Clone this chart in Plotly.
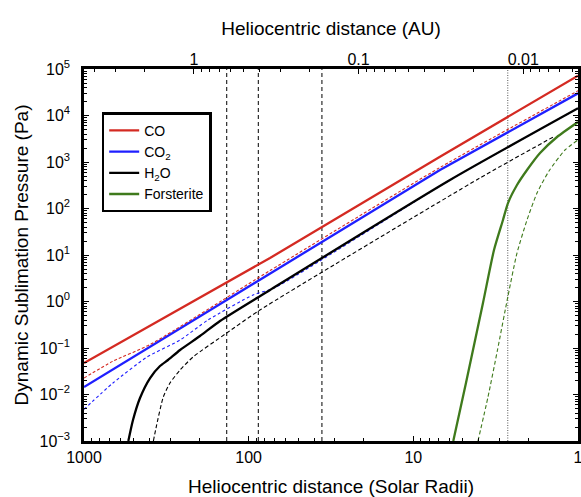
import math
import plotly.graph_objects as go

# ---------------- data ----------------
RSUN_PER_AU = 215.03

co_r = [1000, 74.2, 6.89, 1.0]
co_p = [0.0476, 8.62, 1300, 71800]

co_dash_r = [1000, 667, 397, 74.2, 6.89, 1.0]
co_dash_p = [0.0226, 0.052, 0.119, 4.63, 762, 34100]

co2_r = [1000, 74.2, 6.89, 1.0]
co2_p = [0.01449, 4.04, 673, 30000]

co2_dash_r = [1000, 667, 414, 261, 176.6, 94.1, 69.5, 5.99, 1.0]
co2_dash_p = [0.00481, 0.01767, 0.064, 0.1486, 0.40, 1.38, 1.98, 410, 14300]

h2o_r = [538, 504, 457, 397, 345.5, 309, 261, 197.5, 149.3, 74.2, 5.99, 1.0]
h2o_p = [0.001, 0.00283, 0.00841, 0.0226, 0.041, 0.0552, 0.0906, 0.181, 0.381, 1.77, 410, 14300]

h2o_dash_r = [379, 365.4, 330, 300.5, 261, 217.8, 135.9, 85.4, 3.94, 1.38]
h2o_dash_p = [0.001, 0.0019, 0.00883, 0.01767, 0.0336, 0.064, 0.21, 0.656, 453, 3620]

fo_r = [5.72, 4.79, 3.776, 3.237, 2.855, 2.662, 2.347, 2.04, 1.70, 1.341, 1.0]
fo_p = [0.001, 0.0177, 0.929, 12.8, 56.6, 131, 320, 673, 1563, 3450, 7250]

fo_dash_r = [4.05, 3.52, 3.083, 2.662, 2.347, 2.04, 1.774, 1.50, 1.20, 1.0]
fo_dash_p = [0.001, 0.00883, 0.0906, 1.31, 11.0, 56.6, 215, 640, 1812, 2970]

vlines_dashed_r = [135.9, 87.4, 35.9]
vline_dotted_r = [2.67]

x_range_r = [1000, 1]
y_range_p = [1e-3, 1e5]

y_tick_exp = [-3, -2, -1, 0, 1, 2, 3, 4, 5]
x_tick_vals = [1000, 100, 10, 1]
top_tick_vals = [1, 0.1, 0.01]
top_tick_text = ["1", "0.1", "0.01"]

# ---------------- styles ----------------
RED = "#d42a22"
BLUE = "#1f1fff"
BLACK = "#000000"
GREEN = "#3f7a1c"
FONT = "Liberation Sans, Arial, Helvetica, sans-serif"
SM = 0.6

fig = go.Figure()

# vertical reference lines
for r in vlines_dashed_r:
    fig.add_trace(go.Scatter(x=[r, r], y=y_range_p, mode="lines",
                             line=dict(color="black", width=1, dash="4px,3px"),
                             showlegend=False, hoverinfo="skip"))
for r in vline_dotted_r:
    fig.add_trace(go.Scatter(x=[r, r], y=y_range_p, mode="lines",
                             line=dict(color="#555555", width=1, dash="1px,1.5px"),
                             showlegend=False, hoverinfo="skip"))

# dashed series (drawn first, under solids)
fig.add_trace(go.Scatter(x=co2_dash_r, y=co2_dash_p, mode="lines",
                         line=dict(color=BLUE, width=1.1, dash="3px,2.5px",
                                   shape="spline", smoothing=SM),
                         showlegend=False, hoverinfo="skip"))
fig.add_trace(go.Scatter(x=h2o_dash_r, y=h2o_dash_p, mode="lines",
                         line=dict(color=BLACK, width=1.1, dash="4px,2.5px",
                                   shape="spline", smoothing=SM),
                         showlegend=False, hoverinfo="skip"))
fig.add_trace(go.Scatter(x=fo_dash_r, y=fo_dash_p, mode="lines",
                         line=dict(color=GREEN, width=1.1, dash="4px,2.5px",
                                   shape="spline", smoothing=SM),
                         showlegend=False, hoverinfo="skip"))

# solid series
fig.add_trace(go.Scatter(x=co_r, y=co_p, mode="lines", name="CO",
                         line=dict(color=RED, width=2.3), legendgroup="a"))
fig.add_trace(go.Scatter(x=co2_r, y=co2_p, mode="lines", name="CO<sub>2</sub>",
                         line=dict(color=BLUE, width=2.3), legendgroup="b"))
fig.add_trace(go.Scatter(x=co_dash_r, y=co_dash_p, mode="lines",
                         line=dict(color=RED, width=1.1, dash="3px,2px",
                                   shape="spline", smoothing=SM),
                         showlegend=False, hoverinfo="skip"))
fig.add_trace(go.Scatter(x=h2o_r, y=h2o_p, mode="lines", name="H<sub>2</sub>O",
                         line=dict(color=BLACK, width=2.3, shape="spline", smoothing=SM),
                         legendgroup="c"))
fig.add_trace(go.Scatter(x=fo_r, y=fo_p, mode="lines", name="Forsterite",
                         line=dict(color=GREEN, width=2.3, shape="spline", smoothing=SM),
                         legendgroup="d"))

# invisible trace on top (AU) axis so it is rendered
fig.add_trace(go.Scatter(x=[r / RSUN_PER_AU for r in x_range_r], y=y_range_p,
                         xaxis="x2", mode="lines", line=dict(width=0),
                         opacity=0, showlegend=False, hoverinfo="skip"))

xr = [math.log10(v) for v in x_range_r]
yr = [math.log10(v) for v in y_range_p]
x2r = [math.log10(v / RSUN_PER_AU) for v in x_range_r]

minor_style = dict(ticks="inside", ticklen=3, tickwidth=1, tickcolor="black",
                   dtick="D1", showgrid=False)

fig.update_layout(
    width=581, height=497,
    margin=dict(l=84, r=3, t=69, b=56, autoexpand=False),
    paper_bgcolor="white", plot_bgcolor="white",
    font=dict(family=FONT, size=16, color="black"),
    showlegend=True,
    legend=dict(x=0.0358, y=0.8836, xanchor="left", yanchor="top",
                bordercolor="black", borderwidth=2.5, bgcolor="white",
                font=dict(size=14, family=FONT), itemwidth=30,
                tracegroupgap=6, traceorder="normal"),
    xaxis=dict(type="log", range=xr, showgrid=False, zeroline=False,
               showline=True, linecolor="black", linewidth=2.5, mirror=True,
               ticks="inside", ticklen=5, tickwidth=1.2, tickcolor="black",
               tickmode="array", tickvals=x_tick_vals,
               ticktext=[str(v) for v in x_tick_vals],
               tickfont=dict(size=16), ticklabeloverflow="allow",
               minor=minor_style,
               title=dict(text="Heliocentric distance (Solar Radii)",
                          font=dict(size=19), standoff=16),
               automargin=False),
    xaxis2=dict(type="log", range=x2r, overlaying="x", side="top", anchor="y",
                showgrid=False, zeroline=False, showline=False,
                ticks="inside", ticklen=5, tickwidth=1.2, tickcolor="black",
                tickmode="array", tickvals=top_tick_vals, ticktext=top_tick_text,
                tickfont=dict(size=16), ticklabeloverflow="allow",
                minor=minor_style,
                title=dict(text="Heliocentric distance (AU)",
                           font=dict(size=19), standoff=10),
                automargin=False),
    yaxis=dict(type="log", range=yr, showgrid=False, zeroline=False,
               showline=True, linecolor="black", linewidth=2.5, mirror="ticks",
               ticks="inside", ticklen=5, tickwidth=1.2, tickcolor="black",
               tickmode="array", tickvals=[10.0 ** e for e in y_tick_exp],
               ticktext=["10<sup>%s</sup>" % ("\u2212" + str(-e) if e < 0 else str(e))
                         for e in y_tick_exp],
               tickfont=dict(size=16), ticklabelstandoff=8,
               minor=minor_style,
               title=dict(text="Dynamic Sublimation Pressure (Pa)",
                          font=dict(size=19), standoff=6),
               automargin=False),
)

fig.write_html("out.html", config={"displayModeBar": False})
